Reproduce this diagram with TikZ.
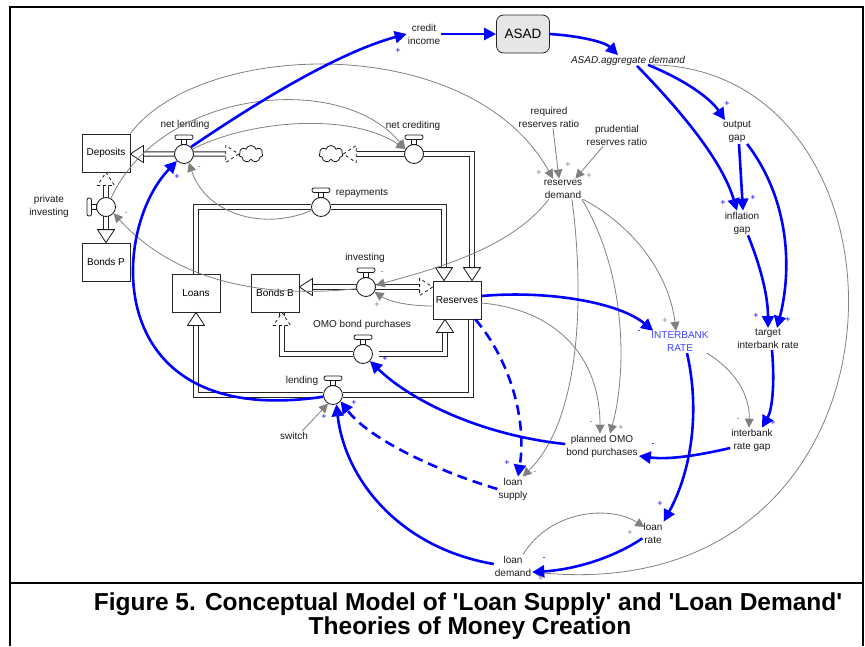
\documentclass[tikz,border=0pt]{standalone}
\usepackage{fontspec}
\setmainfont{Liberation Sans}
\usetikzlibrary{arrows.meta,shapes.symbols,calc}

\definecolor{lnkgray}{RGB}{128,128,128}
\definecolor{ratebl}{RGB}{64,64,255}
\definecolor{asadfill}{RGB}{230,230,230}

\pgfdeclarelayer{pipes}
\pgfsetlayers{pipes,main}

\tikzset{
  lbl/.style={inner sep=1pt, align=center, text=black!90, font=\fontsize{10}{13}\selectfont},
  stock/.style={draw=black!85, line width=0.8pt, minimum width=48pt, minimum height=38pt, inner sep=0pt, font=\fontsize{10}{12}\selectfont},
  valve/.style={circle, draw=black!90, fill=white, line width=0.8pt, minimum size=19pt, inner sep=0pt},
  cloudy/.style={cloud, cloud puffs=7, draw=black!90, fill=white, line width=0.8pt, minimum width=24pt, minimum height=17pt, inner sep=0pt, aspect=1.4},
  pipe/.style={draw=black!85, line width=0.9pt, double=white, double distance=3.4pt, shorten <=6pt, shorten >=6pt},
  blnk/.style={blue, line width=2.6pt, -{Triangle[length=12pt,width=12pt]}},
  dlnk/.style={blnk, dash pattern=on 10pt off 6pt},
  glnk/.style={lnkgray, line width=0.8pt, -{Triangle[length=9pt,width=9pt]}},
  bpol/.style={blue, inner sep=0pt, font=\fontsize{9}{9}\selectfont},
  gpol/.style={lnkgray, inner sep=0pt, font=\fontsize{9}{9}\selectfont},
  capt/.style={inner sep=0pt, font=\bfseries\fontsize{24.5}{28}\selectfont},
  fhead/.pic={\draw[fill=white, draw=black!90, line width=0.8pt, #1] (0,0) -- (-13,8.5) -- (-13,-8.5) -- cycle;},
  tap/.pic={\draw[fill=white, draw=black!90, line width=0.8pt] (-2.5,-14.5) rectangle (2.5,-9.5);
    \draw[fill=white, draw=black!90, line width=0.8pt, rounded corners=2pt] (-9,-19) rectangle (9,-14.5);}
}

\begin{document}
\begin{tikzpicture}[x=1pt,y=-1pt]
\useasboundingbox (0,0) rectangle (865,646);

% frame and caption rule
\draw[line width=2pt] (10,646) -- (10,7) -- (863,7) -- (863,646);
\draw[line width=2pt] (10,583) -- (863,583);

% stocks
\node[stock] (dep) at (106,153) {Deposits};
\node[stock] (bp) at (106,262) {Bonds P};
\node[stock] (loans) at (196,293) {Loans};
\node[stock] (bb) at (275,293) {Bonds B};
\node[stock] (res) at (457,300) {Reserves};
\node[stock, rounded corners=7pt, fill=asadfill, minimum width=53pt, font=\fontsize{13.5}{14}\selectfont] (asad) at (523,34) {ASAD};

% valves and clouds
\node[valve] (nl) at (184,154) {};
\node[valve] (nc) at (414,154) {};
\node[valve] (rp) at (321,207) {};
\node[valve] (inv) at (366,287) {};
\node[valve] (omo) at (363,354) {};
\node[valve] (lend) at (333,395) {};
\node[valve] (pi) at (106,207) {};
\foreach \v in {nl,nc,rp,inv,omo,lend} \pic at (\v) {tap};
\pic[rotate=90] at (pi) {tap};
\node[cloudy] (cl1) at (251,154) {};
\node[cloudy] (cl2) at (331,154) {};

% flow labels
\node[lbl] (nll) at (185,125) {net lending};
\node[lbl] (ncl) at (413,126) {net crediting};
\node[lbl] (rpl) at (362,193) {repayments};
\node[lbl] (invl) at (365,258) {investing};
\node[lbl] (omol) at (362,325) {OMO bond purchases};
\node[lbl] (lendl) at (302,381) {lending};
\node[lbl] (pil) at (49,206) {private\\investing};

% auxiliaries
\node[lbl] (ci) at (424,34) {credit\\income};
\node[lbl, font=\itshape\fontsize{10}{13}\selectfont] (ad) at (628,61) {ASAD.aggregate demand};
\node[lbl] (rrr) at (549,117) {required\\reserves ratio};
\node[lbl] (prr) at (617,135) {prudential\\reserves ratio};
\node[lbl] (rd) at (563,189) {reserves\\demand};
\node[lbl] (og) at (737,132) {output\\gap};
\node[lbl] (ig) at (742,223) {inflation\\gap};
\node[lbl] (tir) at (768,339) {target\\interbank rate};
\node[lbl, text=ratebl] (ir) at (680,342) {INTERBANK\\RATE};
\node[lbl] (irg) at (752,440) {interbank\\rate gap};
\node[lbl] (pomo) at (602,446) {planned OMO\\bond purchases};
\node[lbl] (ls) at (513,489) {loan\\supply};
\node[lbl] (lr) at (653,533) {loan\\rate};
\node[lbl] (ld) at (513,566) {loan\\demand};
\node[lbl] (sw) at (294,436) {switch};

% pipes
\begin{pgfonlayer}{pipes}
\draw[pipe] (dep.east |- nl) -- (cl1.west);
\draw[pipe] (cl2.east) -| ($(res.north)+(15,0)$);
\draw[pipe, shorten <=0pt] (loans.north) |- (rp) -| ($(res.north)+(-13,0)$);
\draw[pipe] (bb.east |- inv) -- (res.west |- inv);
\draw[pipe] ($(bb.south)+(7,0)$) |- (omo) -| ($(res.south)+(-12,0)$);
\draw[pipe, shorten <=0pt] ($(res.south)+(14,0)$) |- (lend) -| (loans.south);
\draw[pipe] (dep.south) -- (bp.north);
% flow heads
\pic[rotate=180] at (dep.east |- nl) {fhead=solid};
\pic at (cl1.west) {fhead=dashed};
\pic[rotate=180] at (cl2.east) {fhead=dashed};
\pic[rotate=-90] at ($(res.north)+(15,0)$) {fhead=solid};
\pic[rotate=-90] at ($(res.north)+(-13,0)$) {fhead=solid};
\pic[rotate=180] at (bb.east |- inv) {fhead=solid};
\pic at (res.west |- inv) {fhead=dashed};
\pic[rotate=90] at ($(bb.south)+(7,0)$) {fhead=dashed};
\pic[rotate=90] at ($(res.south)+(-12,0)$) {fhead=solid};
\pic[rotate=90] at (loans.south) {fhead=solid};
\pic[rotate=90] at (dep.south) {fhead=dashed};
\pic[rotate=-90] at (bp.north) {fhead=solid};
\end{pgfonlayer}

% gray links
\draw[glnk] (dep.north east) .. controls (200,40) and (470,30) .. ($(rd.north)+(-10,0)$);
\draw[glnk] ($(rrr.south)+(4,0)$) -- ($(rd.north)+(-4,0)$);
\draw[glnk] ($(prr.south)+(-14,0)$) -- ($(rd.north east)+(-8,0)$);
\draw[glnk] (pi.60) .. controls (160,90) and (340,70) .. (nc.150);
\draw[glnk] (nl.30) .. controls (250,120) and (350,112) .. (nc.150);
\draw[glnk] (rp.200) .. controls (260,232) and (205,212) .. (nl.-60);
\draw[glnk] (inv.190) .. controls (250,300) and (170,275) .. (pi.-40);
\draw[glnk] ($(rd.south west)+(6,0)$) .. controls (510,250) and (430,270) .. (inv.10);
\draw[glnk] ($(res.west)+(0,6)$) .. controls (410,306) and (390,302) .. (inv.-30);
\draw[glnk] ($(res.east)+(0,3)$) .. controls (560,310) and (600,360) .. ($(pomo.north)+(-2,0)$);
\draw[glnk] ($(rd.south)+(19,0)$) .. controls (630,280) and (625,380) .. ($(pomo.north)+(8,0)$);
\draw[glnk] ($(rd.south)+(9,0)$) .. controls (585,300) and (580,420) .. ($(ls.north east)+(-6,0)$);
\draw[glnk] (rd.south east) .. controls (640,230) and (670,280) .. ($(ir.north)+(-4,0)$);
\draw[glnk] ($(ir.south east)+(-3,0)$) .. controls (735,370) and (750,395) .. ($(irg.north)+(-3,0)$);
\draw[glnk] ($(ld.north)+(10,0)$) .. controls (550,510) and (610,505) .. ($(lr.west)+(2,-6)$);
\draw[glnk] ($(ad.south)+(25,-2)$) .. controls (930,70) and (930,610) .. ($(ld.east)+(0,6)$);
\draw[glnk] ($(sw.north)+(8,0)$) -- (lend.-120);

% blue links
\draw[blnk] (nl.45) .. controls (260,100) and (340,52) .. (ci.west);
\draw[blnk] (ci.east) -- (asad.west);
\draw[blnk] (asad.east) .. controls (580,36) and (605,42) .. ($(ad.north)+(-10,0)$);
\draw[blnk] ($(ad.south)+(20,-2)$) .. controls (685,80) and (710,98) .. ($(og.north)+(-12,0)$);
\draw[blnk] ($(ad.south)+(9,-1)$) .. controls (680,110) and (722,160) .. ($(ig.north)+(-5,0)$);
\draw[blnk] ($(og.south)+(2,0)$) -- ($(ig.north)+(1,0)$);
\draw[blnk] ($(og.south east)+(-5,0)$) .. controls (790,200) and (792,270) .. ($(tir.north)+(9,0)$);
\draw[blnk] ($(ig.south)+(6,0)$) .. controls (760,265) and (768,295) .. (tir.north);
\draw[blnk] ($(tir.south)+(4,0)$) .. controls (775,385) and (772,410) .. ($(irg.north)+(10,0)$);
\draw[blnk] ($(irg.west)+(0,8)$) .. controls (700,455) and (670,460) .. ($(pomo.east)+(0,10)$);
\draw[blnk] ($(pomo.west)+(0,-2)$) .. controls (480,435) and (410,400) .. (omo.-45);
\draw[blnk] ($(res.east)+(0,-4)$) .. controls (550,290) and (620,303) .. ($(ir.north west)+(3,0)$);
\draw[blnk] ($(ir.south)+(7,0)$) .. controls (700,410) and (692,470) .. (lr.north east);
\draw[blnk] ($(lr.south west)+(0,-6)$) .. controls (610,560) and (570,570) .. ($(ld.east)+(0,6)$);
\draw[blnk] ($(ld.west)+(0,-2)$) .. controls (400,548) and (345,480) .. (lend.-70);
\draw[dlnk] (ls.west) .. controls (440,472) and (370,440) .. (lend.-40);
\draw[dlnk] ($(res.south east)+(-6,0)$) .. controls (510,360) and (527,420) .. ($(ls.north)+(5,0)$);
\draw[blnk] (lend.190) .. controls (100,430) and (110,230) .. (nl.225);

% polarities
\foreach \x/\y/\s [count=\i] in {398/51/+, 727/104/+, 723/203/+, 753/198/+, 788/320/+, 756/316/+,
    773/423/+, 653/445/-, 385/359/+, 639/332/-, 660/504/+, 544/559/-, 324/417/+, 354/403/+,
    507/463/+, 177/177/+}
  \node[bpol] (pb\i) at (\x,\y) {\s};
\foreach \x/\y/\s [count=\i] in {568/165/+, 589/176/+, 539/173/+, 199/168/-, 126/214/-, 382/273/-,
    377/305/+, 591/423/-, 621/428/+, 535/473/-, 665/321/+, 738/420/-, 630/533/+, 541/579/+}
  \node[gpol] (pg\i) at (\x,\y) {\s};

% caption
\node[capt] (cap1) at (468,604)
  {Figure 5. Conceptual Model of \textquotesingle Loan Supply\textquotesingle\ and \textquotesingle Loan Demand\textquotesingle};
\node[capt] (cap2) at (470,628) {Theories of Money Creation};
\end{tikzpicture}
\end{document}
